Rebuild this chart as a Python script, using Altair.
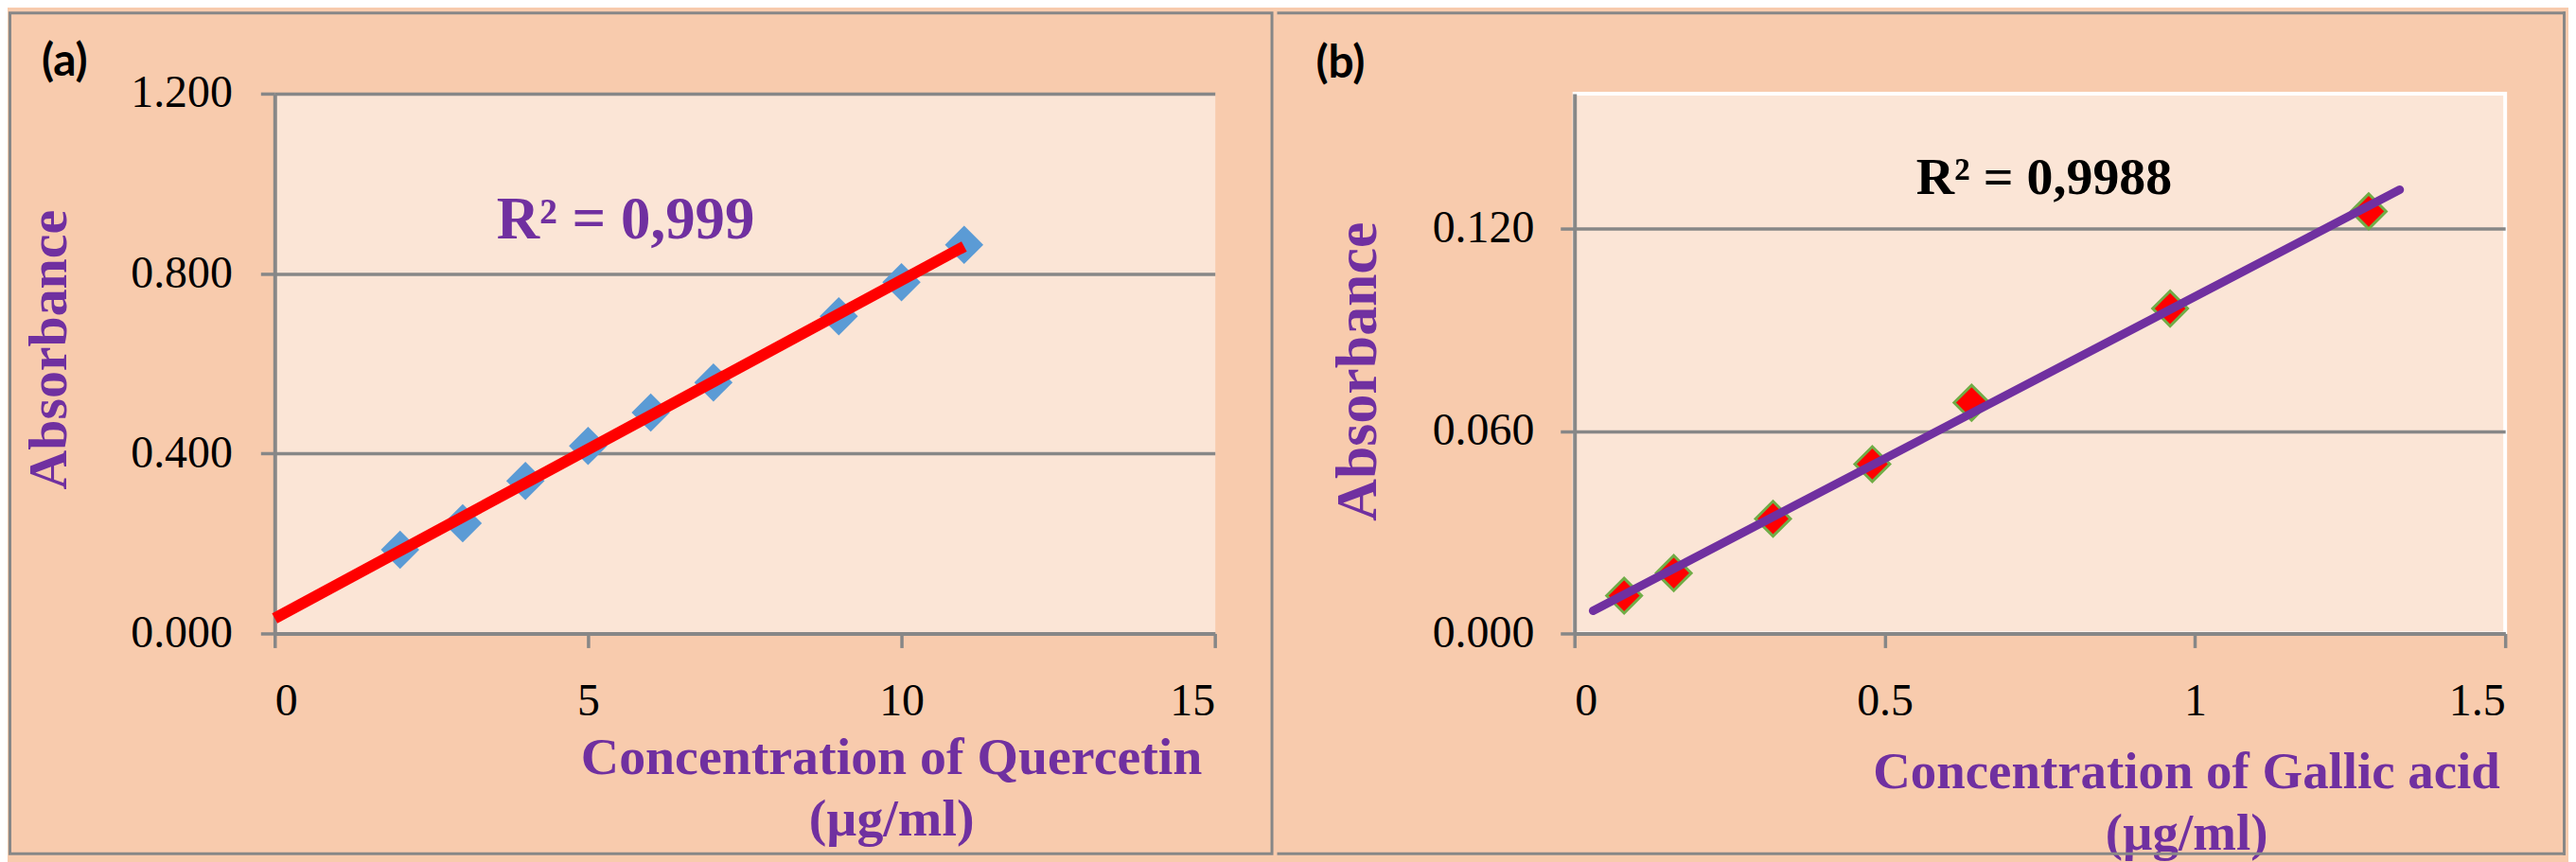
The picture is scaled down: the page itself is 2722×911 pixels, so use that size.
import altair as alt
import pandas as pd

# ---- data ----
conc_quercetin = [2, 3, 4, 5, 6, 7, 9, 10, 11]
abs_quercetin = [0.186, 0.245, 0.339, 0.417, 0.491, 0.558, 0.705, 0.781, 0.864]
conc_gallic = [0.08, 0.16, 0.32, 0.48, 0.64, 0.96, 1.28]
abs_gallic = [0.0112, 0.0179, 0.0340, 0.0502, 0.0684, 0.0963, 0.1251]

x_ticks_a = [0, 5, 10, 15]
y_ticks_a = [0, 0.4, 0.8, 1.2]
x_ticks_b = [0, 0.5, 1, 1.5]
y_ticks_b = [0, 0.06, 0.12]

title_x_a = ["Concentration of Quercetin", "(µg/ml)"]
title_x_b = ["Concentration of Gallic acid", "(µg/ml)"]
r2_a = "R² = 0,999"
r2_b = "R² = 0,9988"

SERIF = "Liberation Serif"
PURPLE = "#7030A0"
GRAY = "#878787"
PEACH = "#F8CBAD"
PLOT_BG = "#FBE5D6"

df_a = pd.DataFrame({"conc": conc_quercetin, "abs": abs_quercetin})
df_b = pd.DataFrame({"conc": conc_gallic, "abs": abs_gallic})
one = pd.DataFrame({"k": [0]})


def axis_common():
    return dict(
        labelFont=SERIF, labelFontSize=48, labelColor="black",
        domainColor=GRAY, domainWidth=4, tickColor=GRAY, tickWidth=3.5,
        tickSize=15, titleFont=SERIF, titleFontWeight="bold",
        titleColor=PURPLE,
    )


def panel(df, xdom, ydom, xticks, yticks, xtitle, ytitle_fs, xtitle_fs,
          xt_x, xt_y, xt_lh, yt_x, yt_y, ylab_pad, width, color_pts,
          stroke_pts, line_color, line_w, extent, r2, r2_fs, r2_color,
          r2_x, r2_y, tag, tag_x, tag_y, view, frame_layers, line_cap):
    x_enc = alt.X(
        "conc:Q",
        scale=alt.Scale(domain=xdom, nice=False, zero=False),
        axis=alt.Axis(values=xticks, format="~g", grid=False,
                      title=xtitle, titleX=xt_x, titleY=xt_y,
                      titleAlign="center", titleBaseline="alphabetic",
                      titleLineHeight=xt_lh, titleFontSize=xtitle_fs,
                      labelPadding=33, **axis_common()),
    )
    y_enc = alt.Y(
        "abs:Q",
        scale=alt.Scale(domain=ydom, nice=False, zero=False),
        axis=alt.Axis(values=yticks, format=".3f", grid=True,
                      gridColor=GRAY, gridWidth=3.5,
                      title="Absorbance", titleX=yt_x, titleY=yt_y,
                      titleAngle=270, titleAlign="center",
                      titleBaseline="middle", titleFontSize=ytitle_fs,
                      labelPadding=ylab_pad, **axis_common()),
    )
    pt_kwargs = dict(shape="diamond", filled=True, opacity=1, fill=color_pts)
    if stroke_pts:
        pt_kwargs.update(stroke=stroke_pts, strokeWidth=3, size=1369)
    else:
        pt_kwargs.update(size=1650, strokeWidth=0)
    pts = alt.Chart(df).mark_point(**pt_kwargs).encode(x=x_enc, y=y_enc)
    line = (
        alt.Chart(df)
        .transform_regression("conc", "abs", extent=extent)
        .mark_line(color=line_color, strokeWidth=line_w, strokeCap=line_cap)
        .encode(x=x_enc, y=y_enc)
    )
    r2txt = alt.Chart(one).mark_text(
        text=r2, font=SERIF, fontSize=r2_fs, fontWeight="bold",
        color=r2_color, align="left", baseline="alphabetic",
    ).encode(x=alt.value(r2_x), y=alt.value(r2_y))
    tagtxt = alt.Chart(one).mark_text(
        text=tag, font="Lato", fontSize=48, fontWeight="bold",
        color="black", align="left", baseline="alphabetic",
    ).encode(x=alt.value(tag_x), y=alt.value(tag_y))
    return alt.layer(*frame_layers, pts, line, r2txt, tagtxt).properties(
        width=width, height=572, view=view
    )


frame_a = [
    alt.Chart(one).mark_rect(filled=False, stroke=GRAY, strokeWidth=3).encode(
        x=alt.value(-280.5), x2=alt.value(1056.5),
        y=alt.value(-85.5), y2=alt.value(805.5))
]


def rule(x, x2, y, y2):
    return alt.Chart(one).mark_rule(color=GRAY, strokeWidth=3,
                                    strokeCap="square").encode(
        x=alt.value(x), x2=alt.value(x2), y=alt.value(y), y2=alt.value(y2))


frame_b = [
    rule(-313.5, 1048.5, -85.5, -85.5),
    rule(1048.5, 1048.5, -85.5, 805.5),
    rule(-313.5, 1048.5, 805.5, 805.5),
]

chart_a = panel(
    df_a, [0, 15], [0, 1.2], x_ticks_a, y_ticks_a, title_x_a, 58, 56,
    653, 148, 66, -238, 271, 30, 996, "#5B9BD5", None, "#FF0000", 12,
    [0, 11], r2_a, 63, PURPLE, 235, 153, "(a)", -247, -19,
    alt.ViewBackground(fill=PLOT_BG, stroke="transparent"), frame_a, "butt",
)
chart_b = panel(
    df_b, [0, 1.5], [0, 0.16], x_ticks_b, y_ticks_b, title_x_b, 62, 55,
    648, 163, 66, -230, 294, 28, 986, "#FF0000", "#70AD47", PURPLE, 9,
    [0.03, 1.33], r2_b, 56, "black", 362, 106, "(b)", -274, -17,
    alt.ViewBackground(fill=PLOT_BG, stroke="white", strokeWidth=4),
    frame_b, "round",
)

chart = alt.hconcat(chart_a, chart_b, spacing=0).properties(
    padding=0, background=PEACH
)

chart.save("out.html", embed_options={"renderer": "svg", "actions": False})
